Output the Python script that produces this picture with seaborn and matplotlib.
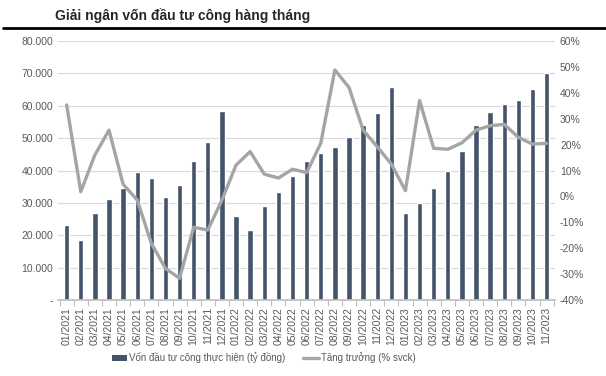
import pandas as pd
import matplotlib.pyplot as plt
import seaborn as sns
from matplotlib.ticker import FuncFormatter, MultipleLocator
from matplotlib.patches import Patch
from matplotlib.lines import Line2D

sns.set_theme(style="white")
plt.rcParams['font.family'] = ['Liberation Sans', 'DejaVu Sans']

# monthly data, 01/2021 - 11/2023
months = [f"{m:02d}/{y}" for y in (2021, 2022, 2023) for m in range(1, 13)][:35]

disbursed = [23100, 18500, 26900, 31200, 34500, 39400, 37600, 31800, 35400, 42800, 48700, 58500,
             26000, 21600, 29100, 33500, 38200, 43000, 45400, 47200, 50300, 54200, 57900, 65700,
             26900, 29900, 34700, 39800, 46000, 54200, 58100, 60600, 61800, 65300, 70100]

growth = [35.3, 1.8, 16.0, 25.6, 4.7, -1.4, -18.1, -27.8, -31.6, -11.9, -13.0, -1.4,
          12.1, 17.3, 8.6, 7.1, 10.5, 9.2, 20.5, 48.8, 42.1, 25.6, 19.2, 12.5,
          2.2, 37.0, 18.6, 18.2, 20.7, 25.6, 27.3, 27.8, 22.8, 20.2, 20.5]

df = pd.DataFrame({'month': months, 'disbursed': disbursed, 'growth': growth})

bar_color = '#44546A'
line_color = '#A5A5A5'
text_color = '#595959'

fig, ax = plt.subplots(figsize=(6.06, 3.76), dpi=100)
fig.subplots_adjust(left=0.096, right=0.916, top=0.891, bottom=0.202)

sns.barplot(data=df, x='month', y='disbursed', color=bar_color, width=0.38,
            saturation=1, ax=ax, zorder=2)

ax2 = ax.twinx()
sns.lineplot(x=df.index, y=df['growth'], color=line_color, linewidth=2.4, ax=ax2, zorder=3)

# left axis
ax.set_ylim(0, 80000)
ax.yaxis.set_major_locator(MultipleLocator(10000))
ax.yaxis.set_major_formatter(FuncFormatter(
    lambda v, p: '-' if v == 0 else f"{int(v):,}".replace(',', '.')))
ax.grid(axis='y', color='#D9D9D9', linewidth=0.8, zorder=0)
ax.set_axisbelow(True)

# right axis
ax2.set_ylim(-40, 60)
ax2.yaxis.set_major_locator(MultipleLocator(10))
ax2.yaxis.set_major_formatter(FuncFormatter(lambda v, p: f"{int(round(v))}%"))

ax.set_xlim(-0.6, len(months) - 0.4)
ax.set_xlabel('')
ax.set_ylabel('')
ax2.set_ylabel('')
ax.tick_params(axis='x', which='major', labelrotation=90, labelsize=7.5,
               colors=text_color, length=0, pad=5)
# excel-style tick marks between categories
ax.set_xticks([i + 0.5 for i in range(-1, len(months))], minor=True)
ax.tick_params(axis='x', which='minor', length=4, width=0.8, color='#BFBFBF', bottom=True)
ax.tick_params(axis='y', labelsize=7.5, colors=text_color, length=0)
ax2.tick_params(axis='y', labelsize=7.5, colors=text_color, length=0)

for a in (ax, ax2):
    for s in ('top', 'left', 'right'):
        a.spines[s].set_visible(False)
ax.spines['bottom'].set_color('#BFBFBF')
ax2.spines['bottom'].set_visible(False)

fig.text(0.091, 0.958, 'Giải ngân vốn đầu tư công hàng tháng', fontsize=10,
         fontweight='bold', color='#262626', ha='left', va='center')
fig.add_artist(Line2D([0.005, 1.0], [0.926, 0.926], transform=fig.transFigure,
                      color='black', linewidth=2))

handles = [Patch(facecolor=bar_color, edgecolor='none'),
           Line2D([0], [0], color=line_color, linewidth=2.4)]
labels = ['Vốn đầu tư công thực hiện (tỷ đồng)', 'Tăng trưởng (% svck)']
fig.legend(handles, labels, loc='center', bbox_to_anchor=(0.435, 0.048), ncol=2,
           frameon=False, fontsize=7, handlelength=1.6, handletextpad=0.2,
           columnspacing=1.8, labelcolor=text_color)

fig.savefig('out.png', dpi=100)
